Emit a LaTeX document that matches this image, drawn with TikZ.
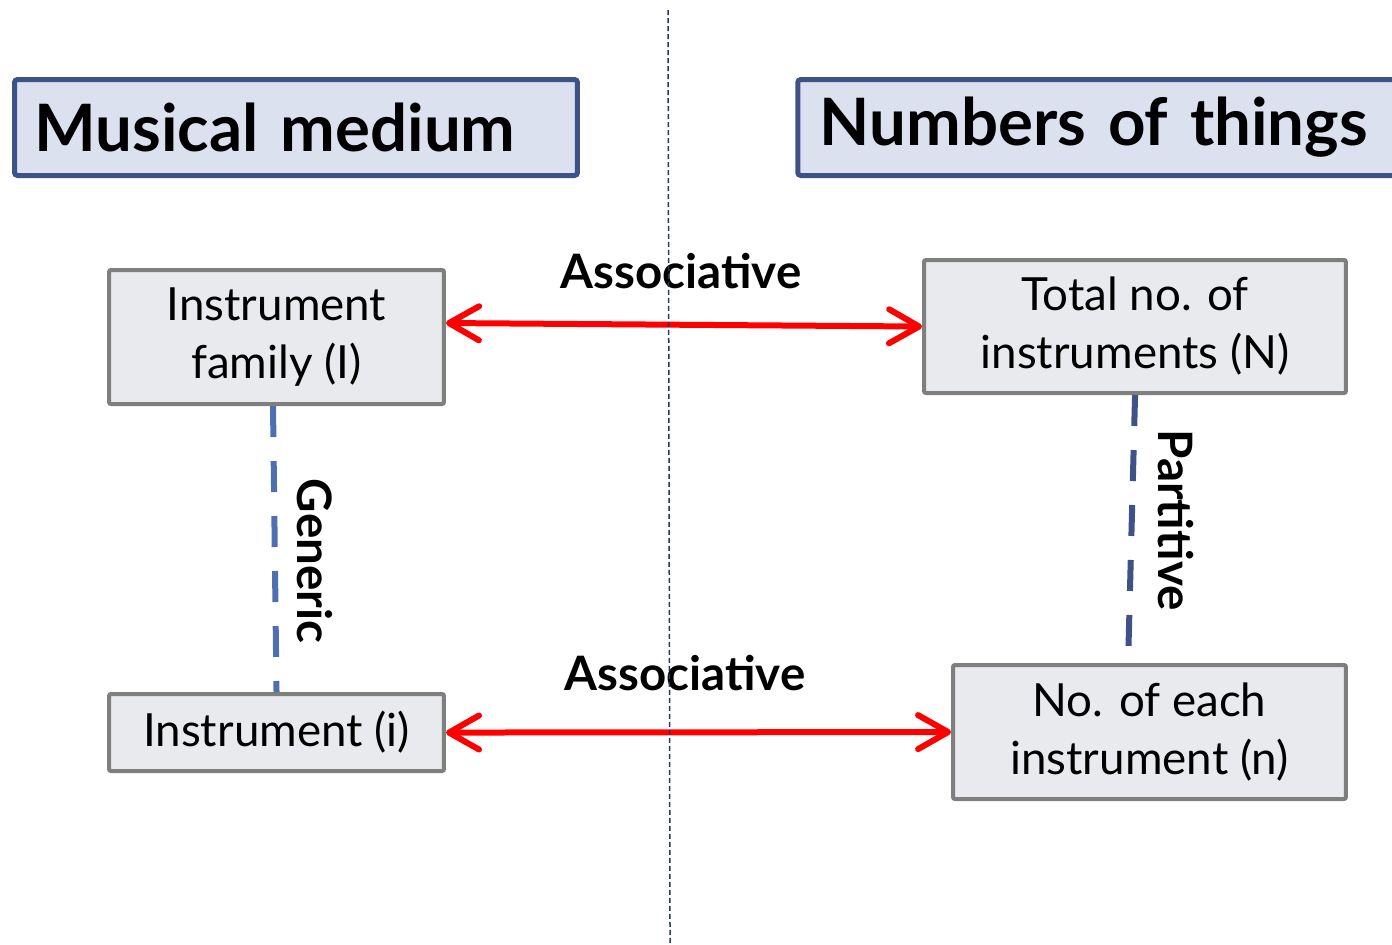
\documentclass[tikz,border=0pt]{standalone}
\usepackage{fontspec}
\setmainfont{Lato}
\usetikzlibrary{arrows.meta,calc}
\definecolor{titleblue}{RGB}{63,82,135}
\definecolor{titlefill}{RGB}{220,225,239}
\definecolor{boxgray}{RGB}{127,127,127}
\definecolor{boxfill}{RGB}{233,234,238}
\definecolor{genblue}{RGB}{79,111,176}
\definecolor{divline}{RGB}{40,55,95}
\begin{document}
\begin{tikzpicture}[scale=0.1,
  titlebox/.style={draw=titleblue, fill=titlefill, line width=0.05cm, rounded corners=0.03cm, minimum height=0.96cm, inner xsep=0.2cm, align=left, font=\fontsize{18.6}{20}\selectfont\bfseries},
  thing/.style={draw=boxgray, fill=boxfill, line width=0.04cm, rounded corners=0.02cm, align=center, inner sep=0pt, font=\fontsize{13}{16.5}\selectfont},
  relation/.style={inner sep=0pt, font=\fontsize{13.5}{16}\selectfont\bfseries},
  barb/.tip={Straight Barb[length=0.3cm, width=0.34cm, round]},
  assoc/.style={draw=red, line width=0.06cm, barb-barb},
  link/.style={line width=0.06cm, dash pattern=on 0.31cm off 0.24cm}]
\useasboundingbox (0,0) rectangle (139.2,-94.4);
% headings
\node [titlebox, text width=5.23cm] (medium) at (29.6,-12.75) {Musical medium};
\node [titlebox, text width=5.585cm, inner xsep=0.22cm] (numbers) at (109.9,-12.75) {Numbers of things};
% things
\node [thing, minimum width=3.35cm, minimum height=1.34cm] (family) at (27.65,-33.7) {Instrument\\family (I)};
\node [thing, minimum width=4.22cm, minimum height=1.33cm] (total) at (113.5,-32.65) {Total no. of\\instruments (N)};
\node [thing, minimum width=3.35cm, minimum height=0.77cm] (instr) at (27.65,-73.25) {Instrument (i)};
\node [thing, minimum width=3.93cm, minimum height=1.34cm] (each) at (114.95,-73.2) {No. of each\\instrument (n)};
% relations
\draw [assoc] ($(family.east)+(0,1.4)$) -- (total.west);
\draw [assoc] (instr.east) -- (each.west);
\draw [link, genblue] ($(family.south)+(-0.35,0)$) -- (instr.north);
\draw [link, titleblue] (total.south) -- ($(each.north)+(-2.15,0)$);
\node [relation] (assoc1) at (68.1,-27.1) {Associative};
\node [relation] (assoc2) at (68.5,-67.3) {Associative};
\node [relation, rotate=-90] (generic) at (31.5,-56.1) {Generic};
\node [relation, rotate=-90] (partitive) at (117.6,-52.0) {Partitive};
% divider
\coordinate (divtop) at (66.8,-1.0);
\coordinate (divbot) at (67.0,-94.4);
\draw [divline, line width=0.015cm, dash pattern=on 0.05cm off 0.03cm] (divtop) -- (divbot);
\end{tikzpicture}
\end{document}
